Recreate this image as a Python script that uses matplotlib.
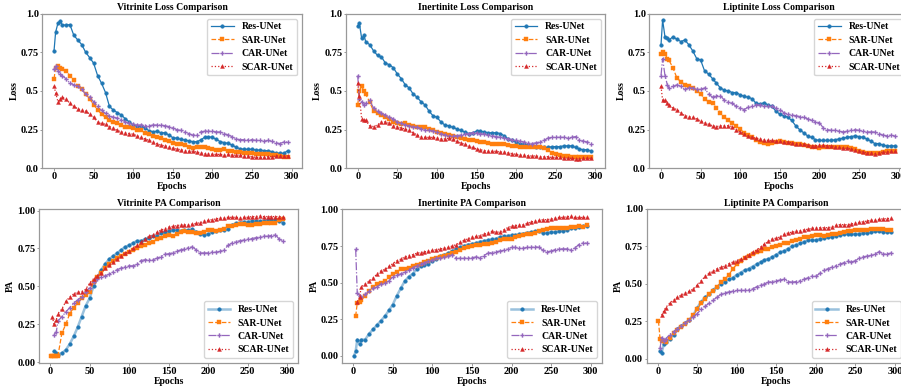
import numpy as np
import matplotlib
matplotlib.use("Agg")
import matplotlib.pyplot as plt

nan = float("nan")

# ---------------- data ----------------
models = ["Res-UNet", "SAR-UNet", "CAR-UNet", "SCAR-UNet"]
E_LOSS = [0, 2, 5, 8] + list(range(10, 300, 5))
E_PA = [1, 3, 5, 8] + list(range(10, 300, 5))

vit_loss_res = [0.76, 0.88, 0.94, 0.95, 0.93, 0.925, 0.93, 0.86, 0.83, 0.80,
                0.75, 0.716, 0.68, 0.60, 0.55, 0.49, 0.40, 0.376, 0.36, 0.345,
                0.32, 0.30, 0.28, 0.27, 0.273, 0.26, 0.243, 0.237, 0.24, 0.23,
                0.23, 0.215, 0.198, 0.195, 0.187, 0.183, 0.178, 0.172, 0.172, 0.183,
                0.20, 0.204, 0.20, 0.187, 0.172, 0.166, 0.161, 0.15, 0.135, 0.127,
                0.123, 0.123, 0.123, 0.118, 0.118, 0.114, 0.114, 0.108, 0.10, 0.097,
                0.097, 0.114]
vit_loss_sar = [0.58, 0.65, 0.66, 0.65, 0.64, 0.63, 0.60, 0.57, 0.53, 0.51,
                0.48, 0.45, 0.41, 0.38, 0.35, 0.33, 0.31, 0.30, 0.29, 0.28,
                0.27, 0.265, 0.26, 0.25, 0.245, 0.23, 0.22, 0.21, 0.205, 0.195,
                0.185, 0.175, 0.165, 0.16, 0.155, 0.15, 0.14, 0.13, 0.135, 0.14,
                0.135, 0.13, 0.125, 0.12, 0.12, 0.125, 0.115, 0.11, 0.105, 0.105,
                0.10, 0.10, 0.10, 0.095, 0.095, 0.09, 0.09, 0.085, 0.085, 0.08,
                0.075, 0.075]
vit_loss_car = [0.64, 0.66, 0.63, 0.61, 0.60, 0.58, 0.55, 0.54, 0.53, 0.51,
                0.48, 0.46, 0.43, 0.40, 0.375, 0.355, 0.34, 0.33, 0.325, 0.315,
                0.30, 0.29, 0.285, 0.28, 0.28, 0.275, 0.275, 0.28, 0.28, 0.28,
                0.275, 0.27, 0.26, 0.25, 0.245, 0.235, 0.225, 0.215, 0.215, 0.235,
                0.24, 0.24, 0.24, 0.235, 0.235, 0.225, 0.215, 0.205, 0.19, 0.185,
                0.185, 0.185, 0.185, 0.18, 0.18, 0.175, 0.18, 0.175, 0.165, 0.16,
                0.17, 0.17]
vit_loss_scar = [0.53, 0.49, 0.43, 0.45, 0.46, 0.45, 0.42, 0.40, 0.385, 0.375,
                 0.37, 0.35, 0.33, 0.30, 0.29, 0.285, 0.27, 0.26, 0.245, 0.235,
                 0.23, 0.225, 0.22, 0.21, 0.20, 0.19, 0.18, 0.17, 0.16, 0.15,
                 0.145, 0.14, 0.13, 0.125, 0.12, 0.115, 0.11, 0.11, 0.105, 0.10,
                 0.095, 0.095, 0.09, 0.09, 0.09, 0.085, 0.09, 0.085, 0.085, 0.085,
                 0.08, 0.08, 0.075, 0.07, 0.07, 0.07, 0.075, 0.075, 0.08, 0.08,
                 0.08, 0.08]

ine_loss_res = [0.92, 0.94, 0.84, 0.86, 0.82, 0.80, 0.76, 0.73, 0.72, 0.68,
                0.67, 0.65, 0.61, 0.58, 0.54, 0.52, 0.48, 0.46, 0.43, 0.41,
                0.37, 0.34, 0.33, 0.30, 0.28, 0.275, 0.265, 0.255, 0.245, 0.235,
                0.225, 0.23, 0.24, 0.24, 0.235, 0.23, 0.23, 0.23, 0.225, 0.21,
                0.19, 0.18, 0.17, 0.16, 0.155, 0.15, 0.145, 0.14, 0.135, 0.135,
                0.135, 0.14, 0.14, 0.14, 0.145, 0.145, 0.145, 0.135, 0.125, 0.12,
                0.12, 0.11]
ine_loss_sar = [0.41, 0.50, 0.53, 0.50, 0.48, 0.43, 0.37, 0.36, 0.345, 0.33,
                0.32, 0.30, 0.29, 0.285, 0.29, 0.28, 0.275, 0.27, 0.265, 0.265,
                0.255, 0.245, 0.235, 0.23, 0.225, 0.215, 0.21, 0.205, 0.195, 0.19,
                0.185, 0.18, 0.175, 0.17, 0.17, 0.165, 0.16, 0.16, 0.16, 0.155,
                0.15, 0.145, 0.145, 0.14, 0.14, 0.14, 0.135, 0.135, 0.135, 0.13,
                0.12, 0.10, 0.09, 0.085, 0.08, 0.08, 0.075, 0.075, 0.075, 0.075,
                0.075, 0.075]
ine_loss_car = [0.60, 0.45, 0.43, 0.41, 0.42, 0.44, 0.39, 0.37, 0.355, 0.345,
                0.33, 0.32, 0.30, 0.29, 0.28, 0.275, 0.27, 0.265, 0.255, 0.25,
                0.245, 0.24, 0.235, 0.225, 0.215, 0.21, 0.21, 0.21, 0.215, 0.22,
                0.225, 0.23, 0.23, 0.225, 0.22, 0.215, 0.21, 0.205, 0.20, 0.195,
                0.19, 0.185, 0.18, 0.175, 0.17, 0.165, 0.16, 0.165, 0.17, 0.18,
                0.195, 0.20, 0.20, 0.20, 0.20, 0.195, 0.20, 0.205, 0.185, 0.175,
                0.17, 0.16]
ine_loss_scar = [0.55, 0.47, 0.32, 0.31, 0.31, 0.275, 0.27, 0.28, 0.30, 0.30,
                 0.29, 0.275, 0.27, 0.26, 0.255, 0.245, 0.23, 0.215, 0.205, 0.20,
                 0.20, 0.20, 0.195, 0.19, 0.19, 0.195, 0.19, 0.175, 0.165, 0.155,
                 0.145, 0.135, 0.125, 0.12, 0.115, 0.11, 0.11, 0.11, 0.105, 0.105,
                 0.10, 0.095, 0.09, 0.085, 0.085, 0.08, 0.08, 0.08, 0.075, 0.075,
                 0.075, 0.07, 0.07, 0.07, 0.065, 0.065, 0.065, 0.06, 0.06, 0.065,
                 0.065, 0.065]

lip_loss_res = [0.80, 0.96, 0.85, 0.84, 0.83, 0.85, 0.835, 0.82, 0.83, 0.80,
                0.76, 0.71, 0.70, 0.63, 0.61, 0.58, 0.55, 0.52, 0.505, 0.50,
                0.49, 0.49, 0.475, 0.465, 0.46, 0.45, 0.42, 0.415, 0.425, 0.41,
                0.40, 0.37, 0.35, 0.34, 0.33, 0.31, 0.275, 0.25, 0.23, 0.21,
                0.20, 0.185, 0.18, 0.18, 0.18, 0.18, 0.185, 0.19, 0.195, 0.20,
                0.205, 0.21, 0.205, 0.20, 0.19, 0.175, 0.16, 0.16, 0.15, 0.145,
                0.145, 0.145]
lip_loss_sar = [0.74, 0.75, 0.74, 0.71, 0.70, 0.65, 0.585, 0.56, 0.54, 0.53,
                0.52, 0.50, 0.48, 0.45, 0.43, 0.42, 0.39, 0.36, 0.33, 0.31,
                0.29, 0.275, 0.255, 0.23, 0.215, 0.20, 0.185, 0.17, 0.165, 0.16,
                0.165, 0.17, 0.175, 0.17, 0.165, 0.165, 0.16, 0.155, 0.15, 0.145,
                0.14, 0.135, 0.13, 0.135, 0.135, 0.14, 0.14, 0.14, 0.14, 0.135,
                0.13, 0.125, 0.115, 0.105, 0.10, 0.10, 0.10, 0.10, 0.105, 0.11,
                0.11, 0.115]
lip_loss_car = [0.60, 0.71, 0.60, 0.54, 0.52, 0.53, 0.54, 0.53, 0.51, 0.52,
                0.52, 0.51, 0.51, 0.52, 0.48, 0.46, 0.47, 0.47, 0.44, 0.43,
                0.42, 0.40, 0.39, 0.38, 0.395, 0.40, 0.41, 0.41, 0.405, 0.40,
                0.40, 0.39, 0.38, 0.36, 0.35, 0.345, 0.34, 0.335, 0.33, 0.32,
                0.31, 0.30, 0.295, 0.26, 0.25, 0.245, 0.245, 0.24, 0.235, 0.24,
                0.245, 0.25, 0.245, 0.24, 0.235, 0.235, 0.235, 0.225, 0.215, 0.21,
                0.215, 0.21]
lip_loss_scar = [0.53, 0.44, 0.44, 0.42, 0.41, 0.39, 0.38, 0.36, 0.34, 0.335,
                 0.33, 0.32, 0.305, 0.295, 0.285, 0.275, 0.27, 0.275, 0.275, 0.275,
                 0.27, 0.25, 0.235, 0.225, 0.21, 0.20, 0.195, 0.19, 0.185, 0.18,
                 0.18, 0.175, 0.175, 0.17, 0.17, 0.165, 0.16, 0.16, 0.155, 0.15,
                 0.145, 0.145, 0.15, 0.15, 0.145, 0.145, 0.14, 0.135, 0.13, 0.13,
                 0.125, 0.12, 0.115, 0.105, 0.10, 0.10, 0.095, 0.10, 0.105, 0.105,
                 0.11, 0.11]

vit_pa_res = [nan, nan, 0.07, 0.06, 0.05, 0.06, 0.08, 0.12, 0.17, 0.23,
              0.30, 0.37, 0.42, 0.50, 0.56, 0.61, 0.65, 0.68, 0.70, 0.72,
              0.74, 0.76, 0.77, 0.785, 0.80, 0.80, 0.81, 0.82, 0.83, 0.835,
              0.85, 0.86, 0.865, 0.87, 0.87, 0.865, 0.87, 0.87, 0.875, 0.86,
              0.845, 0.84, 0.845, 0.855, 0.865, 0.87, 0.87, 0.88, 0.905, 0.915,
              0.92, 0.925, 0.925, 0.93, 0.93, 0.93, 0.93, 0.935, 0.935, 0.935,
              0.93, 0.92]
vit_pa_sar = [0.04, 0.04, 0.04, 0.04, 0.04, 0.19, 0.25, 0.32, 0.36, 0.39,
              0.42, 0.44, 0.46, 0.53, 0.56, 0.59, 0.62, 0.65, 0.67, 0.69,
              0.70, 0.71, 0.725, 0.74, 0.755, 0.765, 0.775, 0.785, 0.795, 0.81,
              0.82, 0.835, 0.84, 0.83, 0.845, 0.86, 0.865, 0.86, 0.855, 0.85,
              0.85, 0.86, 0.87, 0.87, 0.865, 0.87, 0.88, 0.895, 0.90, 0.905,
              0.91, 0.91, 0.905, 0.905, 0.91, 0.91, 0.915, 0.915, 0.915, 0.92,
              0.935, 0.945]
vit_pa_car = [nan, nan, 0.18, 0.20, 0.27, 0.30, 0.33, 0.36, 0.39, 0.41,
              0.43, 0.46, 0.49, 0.53, 0.55, 0.56, 0.57, 0.58, 0.595, 0.61,
              0.62, 0.63, 0.635, 0.635, 0.645, 0.67, 0.675, 0.675, 0.675, 0.685,
              0.695, 0.71, 0.715, 0.72, 0.73, 0.74, 0.745, 0.755, 0.76, 0.74,
              0.72, 0.72, 0.72, 0.725, 0.725, 0.73, 0.74, 0.77, 0.785, 0.795,
              0.80, 0.805, 0.81, 0.815, 0.82, 0.825, 0.83, 0.83, 0.835, 0.84,
              0.81, 0.80]
vit_pa_scar = [nan, 0.30, 0.25, 0.28, 0.32, 0.35, 0.40, 0.43, 0.45, 0.46,
               0.465, 0.48, 0.52, 0.55, 0.57, 0.59, 0.62, 0.64, 0.66, 0.68,
               0.70, 0.72, 0.73, 0.75, 0.77, 0.79, 0.81, 0.83, 0.84, 0.855,
               0.87, 0.88, 0.89, 0.895, 0.90, 0.905, 0.905, 0.905, 0.91, 0.915,
               0.92, 0.93, 0.935, 0.94, 0.945, 0.95, 0.95, 0.955, 0.955, 0.955,
               0.95, 0.955, 0.955, 0.96, 0.96, 0.965, 0.96, 0.96, 0.96, 0.96,
               0.96, 0.96]

ine_pa_res = [0.0, 0.03, 0.11, 0.08, 0.11, 0.11, 0.15, 0.18, 0.21, 0.24,
              0.27, 0.31, 0.35, 0.41, 0.46, 0.51, 0.54, 0.56, 0.59, 0.61,
              0.62, 0.63, 0.65, 0.66, 0.68, 0.69, 0.70, 0.715, 0.73, 0.74,
              0.75, 0.76, 0.765, 0.77, 0.78, 0.785, 0.79, 0.795, 0.80, 0.81,
              0.815, 0.82, 0.825, 0.825, 0.83, 0.835, 0.84, 0.845, 0.85, 0.85,
              0.84, 0.84, 0.845, 0.845, 0.85, 0.855, 0.86, 0.87, 0.875, 0.88,
              0.885, 0.89]
ine_pa_sar = [nan, 0.27, 0.36, 0.37, 0.38, 0.41, 0.44, 0.47, 0.49, 0.50,
              0.51, 0.54, 0.56, 0.575, 0.59, 0.595, 0.60, 0.61, 0.62, 0.63,
              0.64, 0.65, 0.66, 0.67, 0.675, 0.68, 0.69, 0.70, 0.71, 0.72,
              0.735, 0.745, 0.75, 0.755, 0.76, 0.765, 0.765, 0.77, 0.78, 0.79,
              0.795, 0.80, 0.80, 0.81, 0.82, 0.825, 0.83, 0.835, 0.84, 0.85,
              0.86, 0.865, 0.875, 0.875, 0.87, 0.87, 0.875, 0.88, 0.88, 0.885,
              0.88, 0.895]
ine_pa_car = [nan, 0.73, 0.43, 0.41, 0.40, 0.42, 0.44, 0.46, 0.47, 0.49,
              0.495, 0.51, 0.54, 0.55, 0.56, 0.57, 0.585, 0.60, 0.615, 0.625,
              0.635, 0.645, 0.655, 0.665, 0.67, 0.675, 0.68, 0.69, 0.67, 0.665,
              0.665, 0.67, 0.67, 0.675, 0.67, 0.685, 0.70, 0.705, 0.71, 0.715,
              0.72, 0.73, 0.74, 0.74, 0.735, 0.735, 0.74, 0.74, 0.745, 0.74,
              0.72, 0.71, 0.715, 0.725, 0.73, 0.73, 0.73, 0.725, 0.735, 0.76,
              0.77, 0.77]
ine_pa_scar = [nan, nan, 0.37, 0.40, 0.47, 0.49, 0.51, 0.53, 0.56, 0.58,
               0.59, 0.61, 0.63, 0.65, 0.66, 0.675, 0.685, 0.69, 0.70, 0.705,
               0.71, 0.715, 0.72, 0.725, 0.73, 0.735, 0.74, 0.75, 0.76, 0.775,
               0.79, 0.80, 0.81, 0.815, 0.82, 0.83, 0.84, 0.85, 0.845, 0.845,
               0.86, 0.875, 0.885, 0.89, 0.895, 0.895, 0.905, 0.915, 0.92, 0.925,
               0.93, 0.93, 0.935, 0.94, 0.945, 0.945, 0.95, 0.955, 0.945, 0.945,
               0.945, 0.945]

lip_pa_res = [nan, 0.05, 0.04, 0.10, 0.11, 0.13, 0.16, 0.20, 0.22, 0.24,
              0.26, 0.29, 0.34, 0.38, 0.41, 0.43, 0.46, 0.48, 0.50, 0.515,
              0.53, 0.54, 0.56, 0.575, 0.59, 0.60, 0.615, 0.63, 0.645, 0.66,
              0.665, 0.68, 0.695, 0.71, 0.72, 0.735, 0.75, 0.76, 0.77, 0.78,
              0.79, 0.795, 0.79, 0.80, 0.805, 0.81, 0.815, 0.82, 0.825, 0.83,
              0.835, 0.835, 0.83, 0.835, 0.84, 0.84, 0.845, 0.85, 0.85, 0.845,
              0.845, 0.845]
lip_pa_sar = [0.25, 0.13, 0.12, 0.12, 0.11, 0.14, 0.17, 0.19, 0.21, 0.23,
              0.26, 0.29, 0.33, 0.37, 0.40, 0.43, 0.45, 0.48, 0.51, 0.53,
              0.56, 0.60, 0.63, 0.65, 0.67, 0.685, 0.70, 0.71, 0.72, 0.73,
              0.735, 0.745, 0.75, 0.76, 0.77, 0.775, 0.785, 0.79, 0.80, 0.81,
              0.815, 0.82, 0.825, 0.825, 0.82, 0.825, 0.83, 0.835, 0.84, 0.845,
              0.85, 0.855, 0.86, 0.86, 0.86, 0.86, 0.865, 0.865, 0.865, 0.865,
              0.86, 0.86]
lip_pa_car = [nan, 0.07, 0.14, 0.12, 0.13, 0.16, 0.18, 0.20, 0.22, 0.24,
              0.26, 0.28, 0.30, 0.33, 0.35, 0.37, 0.39, 0.41, 0.43, 0.44,
              0.445, 0.45, 0.455, 0.455, 0.455, 0.46, 0.465, 0.48, 0.49, 0.50,
              0.51, 0.515, 0.52, 0.525, 0.53, 0.515, 0.51, 0.515, 0.52, 0.53,
              0.54, 0.55, 0.55, 0.57, 0.59, 0.60, 0.61, 0.62, 0.63, 0.64,
              0.65, 0.645, 0.655, 0.67, 0.68, 0.685, 0.69, 0.70, 0.715, 0.70,
              0.70, 0.705]
lip_pa_scar = [nan, nan, 0.29, 0.32, 0.34, 0.37, 0.39, 0.41, 0.425, 0.44,
               0.45, 0.465, 0.49, 0.52, 0.55, 0.57, 0.585, 0.60, 0.61, 0.62,
               0.635, 0.645, 0.655, 0.665, 0.68, 0.695, 0.71, 0.725, 0.745, 0.765,
               0.785, 0.80, 0.805, 0.815, 0.83, 0.84, 0.845, 0.85, 0.855, 0.86,
               0.865, 0.87, 0.875, 0.875, 0.875, 0.875, 0.88, 0.89, 0.895, 0.895,
               0.895, 0.90, 0.905, 0.91, 0.915, 0.92, 0.925, 0.925, 0.93, 0.935,
               0.935, 0.94]

titles = ["Vitrinite Loss Comparison", "Inertinite Loss Comparison", "Liptinite Loss Comparison",
          "Vitrinite PA Comparison", "Inertinite PA Comparison", "Liptinite PA Comparison"]
loss_ticks = [0.0, 0.25, 0.5, 0.75, 1.0]
loss_ticklabels = ["0.0", "0.25", "0.5", "0.75", "1.0"]
pa_ticks = [0.0, 0.25, 0.5, 0.75, 1.0]
pa_ticklabels = ["0.00", "0.25", "0.50", "0.75", "1.00"]
x_ticks = [0, 50, 100, 150, 200, 250, 300]

# ---------------- style ----------------
plt.rcParams["font.family"] = ["Liberation Serif", "DejaVu Serif"]
plt.rcParams["font.weight"] = "bold"
colors = ["#1f77b4", "#ff7f0e", "#9467bd", "#d62728"]
styles = ["-", "--", "-.", ":"]
markers = ["o", "s", "P", "^"]
msizes = [2.6, 2.7, 3.1, 2.8]
mews = [0.3, 0.3, 0.0, 0.3]
SPINE = "#999999"
FS_TICK = 7.5
FS_TXT = 7.0

W, H = 901, 390
fig = plt.figure(figsize=(W / 100, H / 100), dpi=100)

def px_axes(l, r, t, b):
    return fig.add_axes([l / W, (H - b) / H, (r - l) / W, (b - t) / H])

top_pos = [(42.3, 301.7), (346.0, 605.4), (649.3, 908.7)]
bot_pos = [(39.0, 298.3), (342.3, 601.6), (646.7, 906.0)]

loss_sets = [
    [vit_loss_res, vit_loss_sar, vit_loss_car, vit_loss_scar],
    [ine_loss_res, ine_loss_sar, ine_loss_car, ine_loss_scar],
    [lip_loss_res, lip_loss_sar, lip_loss_car, lip_loss_scar],
]
pa_sets = [
    [vit_pa_res, vit_pa_sar, vit_pa_car, vit_pa_scar],
    [ine_pa_res, ine_pa_sar, ine_pa_car, ine_pa_scar],
    [lip_pa_res, lip_pa_sar, lip_pa_car, lip_pa_scar],
]
pa_ylims = [(-0.006, 1.01), (-0.05, 1.003), (-0.03, 1.0)]

def style_axes(ax, title, ylabel):
    for s in ax.spines.values():
        s.set_color(SPINE)
        s.set_linewidth(0.9)
    ax.tick_params(axis="both", length=1.8, width=0.7, pad=0.8,
                   labelsize=FS_TICK, color=SPINE)
    for lab in ax.get_xticklabels() + ax.get_yticklabels():
        lab.set_fontweight("bold")
    ax.set_title(title, fontsize=FS_TXT, fontweight="bold", pad=2.5)
    ax.set_xlabel("Epochs", fontsize=FS_TXT, fontweight="bold", labelpad=1)
    ax.set_ylabel(ylabel, fontsize=FS_TXT, fontweight="bold", labelpad=1.5)

for i in range(3):
    ax = px_axes(top_pos[i][0], top_pos[i][1], 13.7, 168.3)
    for k in range(4):
        ax.plot(E_LOSS, loss_sets[i][k], linestyle=styles[k], marker=markers[k],
                color=colors[k], markersize=msizes[k], linewidth=0.9,
                markeredgewidth=mews[k], label=models[k])
    ax.set_xlim(-14.8, 312.7)
    ax.set_ylim(0, 1)
    ax.set_xticks(x_ticks)
    ax.set_yticks(loss_ticks)
    ax.set_yticklabels(loss_ticklabels)
    style_axes(ax, titles[i], "Loss")
    ax.legend(loc="upper right", handlelength=2.3,
              borderpad=0.4, labelspacing=0.45, handletextpad=0.8,
              prop={"weight": "bold", "size": FS_TXT})

for i in range(3):
    ax = px_axes(bot_pos[i][0], bot_pos[i][1], 209.0, 363.0)
    for k in range(4):
        if k == 0:
            ax.plot(E_PA, pa_sets[i][k], linestyle=styles[k], marker=markers[k],
                    color=(0.122, 0.467, 0.706, 0.45), markerfacecolor=colors[k],
                    markeredgecolor=colors[k], markersize=msizes[k], linewidth=1.8,
                    markeredgewidth=mews[k], label=models[k])
        else:
            ax.plot(E_PA, pa_sets[i][k], linestyle=styles[k], marker=markers[k],
                    color=colors[k], markersize=msizes[k], linewidth=0.9,
                    markeredgewidth=mews[k], label=models[k])
    ax.set_xlim(-13.9, 313.9)
    ax.set_ylim(*pa_ylims[i])
    ax.set_xticks(x_ticks)
    ax.set_yticks(pa_ticks)
    ax.set_yticklabels(pa_ticklabels)
    style_axes(ax, titles[3 + i], "PA")
    ax.legend(loc="lower right", handlelength=2.3,
              borderpad=0.4, labelspacing=0.45, handletextpad=0.8,
              prop={"weight": "bold", "size": FS_TXT})

fig.savefig("out.png", dpi=100)
